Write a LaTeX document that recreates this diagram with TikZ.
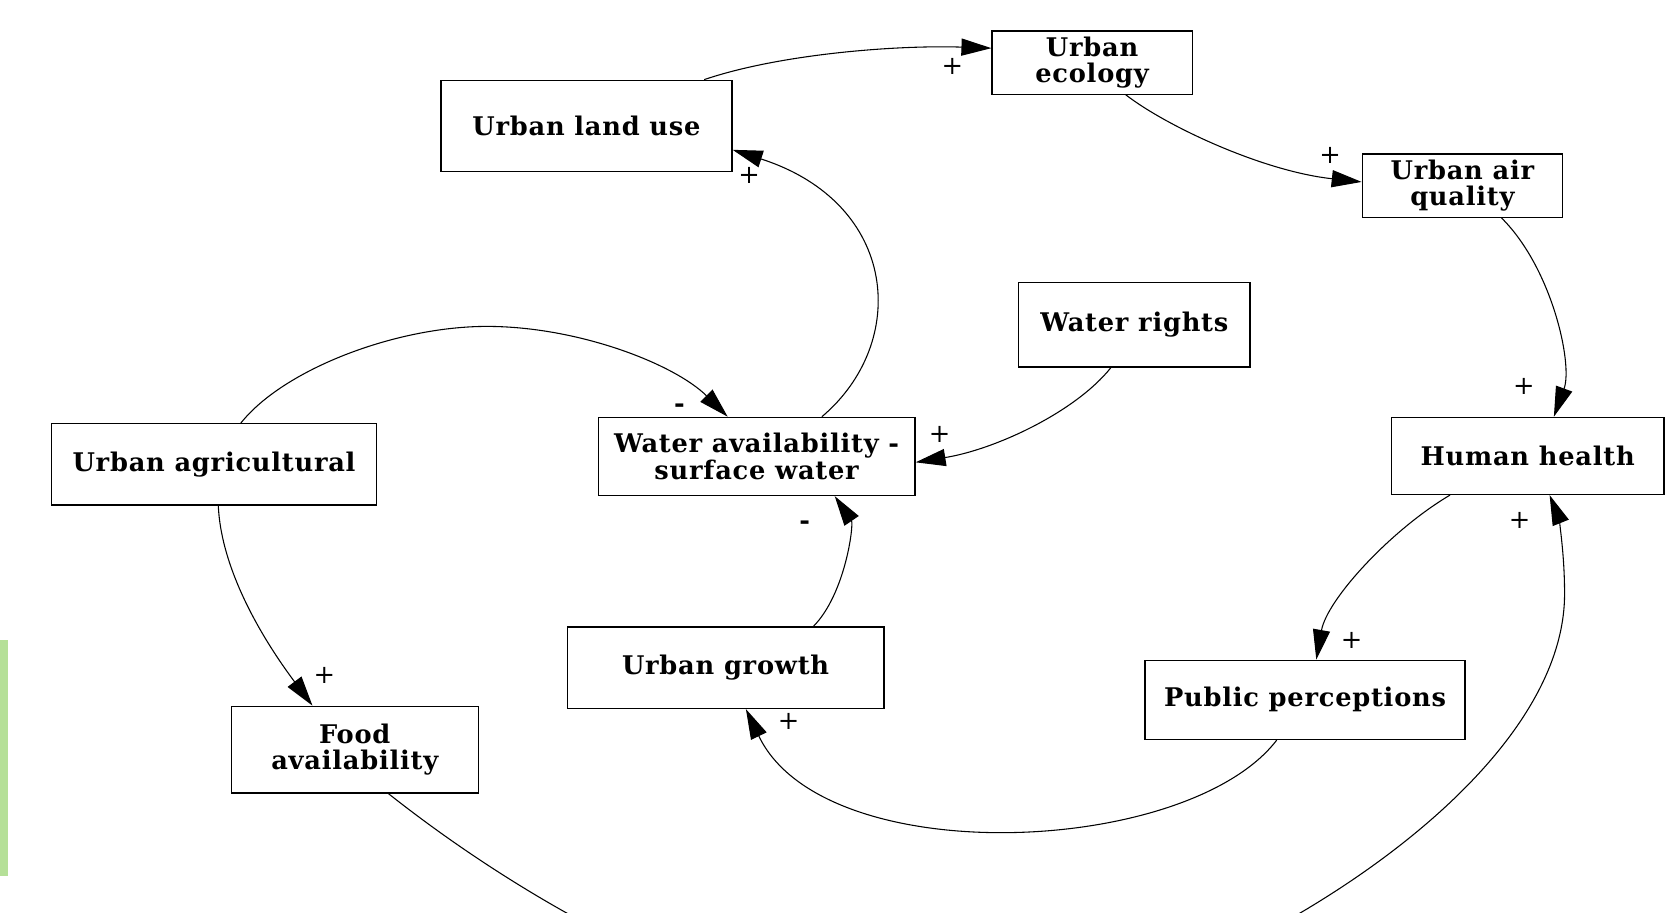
\documentclass[tikz,border=0pt]{standalone}
\usepackage{fontspec}
\setmainfont{DejaVu Serif}[LetterSpace=3.0]
\usetikzlibrary{arrows.meta,calc}
\definecolor{barGreen}{RGB}{181,224,152}
\tikzset{
  box/.style={draw, line width=0.6pt, inner sep=0pt, align=center,
    font=\fontsize{12}{12.5}\selectfont\bfseries},
  link/.style={line width=0.5pt, -{Triangle[length=14pt,width=8pt]}},
  sign/.style={inner sep=0pt, font=\fontsize{12}{12}\selectfont}
}
\begin{document}
\begin{tikzpicture}[x=0.5pt, y=-0.5pt]
\path[use as bounding box, clip] (0,0) rectangle (1568,853);
\fill[barGreen] (0,598) rectangle (7.5,819);

\node[box, minimum width=136pt, minimum height=42.5pt] (lu) at (548,117.5) {Urban land use};
\node[box, minimum width=93.5pt, minimum height=29.5pt] (ue) at (1020.5,58.5) {Urban\\ecology};
\node[box, minimum width=93.5pt, minimum height=29.5pt] (aq) at (1366.5,173.5) {Urban air\\quality};
\node[box, minimum width=108pt, minimum height=39.5pt] (wr) at (1060,303.5) {Water rights};
\node[box, minimum width=127.5pt, minimum height=36pt] (hh) at (1427.5,426) {Human health};
\node[box, minimum width=152pt, minimum height=38pt] (ua) at (200,434) {Urban agricultural};
\node[box, minimum width=148pt, minimum height=36.5pt] (wa) at (707,426.5) {Water availability -\\surface water};
\node[box, minimum width=148pt, minimum height=38pt] (ug) at (678,624) {Urban growth};
\node[box, minimum width=149.5pt, minimum height=37pt] (pp) at (1219.5,654) {Public perceptions};
\node[box, minimum width=115.5pt, minimum height=40.5pt] (fa) at (331.5,700.5) {Food\\availability};

% bottom waypoints of the long loop
\coordinate (low) at (880,965);
\coordinate (bend) at (1462,555);

\draw[link] ($(lu.north)+(110,0)$) .. controls (730,50) and (840,42) .. ($(ue.west)+(0,-13.5)$);
\draw[link] ($(ue.south)+(31.5,0)$) .. controls (1090,118) and (1180,160) .. ($(aq.west)+(0,-3.5)$);
\draw[link] ($(aq.south)+(36.5,0)$) .. controls (1450,250) and (1470,340) .. ($(hh.north)+(24.5,0)$);
\draw[link] ($(wa.north)+(61,0)$) .. controls (850,320) and (840,190) .. ($(lu.east)+(0,22.5)$);
\draw[link] ($(ua.north)+(25,0)$) .. controls (265,345) and (370,305) .. (455,305)
  .. controls (540,305) and (630,340) .. ($(wa.north)+(-27,0)$);
\draw[link] ($(wr.south)+(-22,0)$) .. controls (1005,385) and (930,420) .. ($(wa.east)+(0,5.5)$);
\draw[link] ($(ug.north)+(82,0)$) .. controls (790,555) and (798,490) .. ($(wa.south)+(73,0)$);
\draw[link] ($(ua.south)+(4,0)$) .. controls (207,540) and (255,610) .. ($(fa.north)+(-39.5,0)$);
\draw[link] ($(hh.south)+(-72.5,0)$) .. controls (1300,495) and (1240,560) .. ($(pp.north)+(10.5,0)$);
\draw[link] ($(pp.south)+(-26.5,0)$) .. controls (1110,800) and (770,815) .. ($(ug.south)+(19,0)$);
\draw[link] ($(fa.south)+(31.5,0)$) .. controls (500,850) and (700,960) .. (low)
  .. controls (1060,970) and (1462,760) .. (bend)
  .. controls (1462,510) and (1455,480) .. ($(hh.south)+(20.5,0)$);

\node[sign] (s1) at (890,62) {+};
\node[sign] (s2) at (1243,145) {+};
\node[sign] (s3) at (1424,361) {+};
\node[sign] (s4) at (700,164) {+};
\node[sign] (s5) at (635,381) {\bfseries -};
\node[sign] (s6) at (878,406) {+};
\node[sign] (s7) at (752,491) {\bfseries -};
\node[sign] (s8) at (303,631) {+};
\node[sign] (s9) at (1263,598) {+};
\node[sign] (s10) at (737,674) {+};
\node[sign] (s11) at (1420,486) {+};
\end{tikzpicture}
\end{document}
